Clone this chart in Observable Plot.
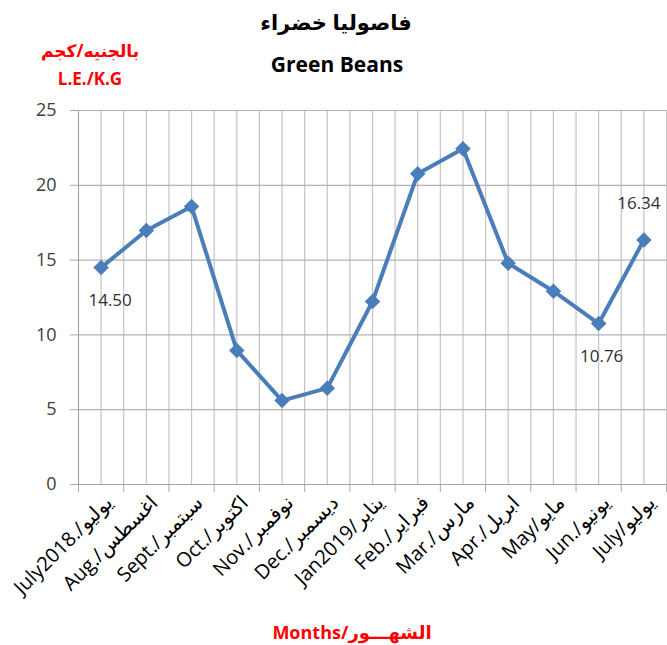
<!DOCTYPE html>
<html><head><meta charset="utf-8">
<script src="https://cdn.jsdelivr.net/npm/d3@7"></script>
<script src="https://cdn.jsdelivr.net/npm/@observablehq/plot@0.6"></script>
<style>
body{margin:0;background:#fff}
#c{position:relative;width:667px;height:645px;font-family:"Open Sans","DejaVu Sans",sans-serif;overflow:hidden}
#c svg{position:absolute;left:0;top:0}
.t{position:absolute;transform:translate(-50%,-50%);white-space:nowrap;font-weight:bold;line-height:1}
</style>
</head><body><div id="c"></div>
<script>
const titleAr = "فاصوليا خضراء";
const titleEn = "Green Beans";
const unitAr = "بالجنيه/كجم";
const unitEn = "L.E./K.G";
const xTitle = "Months/الشهـــور";
const months = ["July2018./يوليو","Aug./اغسطس","Sept./سبتمبر","Oct./اكتوبر","Nov./نوفمبر","Dec./ديسمبر","Jan2019/يناير","Feb./فبراير","Mar./مارس","Apr./ابريل","May/مايو","Jun./يونيو","July/يوليو"];
const prices = [14.50,16.98,18.58,8.96,5.61,6.44,12.23,20.77,22.44,14.79,12.92,10.76,16.34];
const yTicks = [0,5,10,15,20,25];
const labeledIdx = [0,11,12];

const data = months.map((m,i)=>({i, m, v: prices[i]}));
const bounds = d3.range(-0.5, months.length, 1);
const grid = d3.range(0, months.length, 0.5);
const lab = i => ({i, v: prices[i], t: prices[i].toFixed(2)});
const font = '"Open Sans","DejaVu Sans",sans-serif';

const chart = Plot.plot({
  width: 667, height: 645,
  marginTop: 110, marginBottom: 161, marginLeft: 78, marginRight: 1,
  x: {domain: [-0.5, months.length - 0.5], axis: null},
  y: {domain: [0, 25], axis: null},
  style: {fontFamily: font, background: "#fff", color: "#000"},
  marks: [
    Plot.gridX(grid, {stroke: "#c4c4c4", strokeOpacity: 1, strokeWidth: 1.2}),
    Plot.gridY(yTicks.slice(1), {stroke: "#b4b4b4", strokeOpacity: 1, strokeWidth: 1.2}),
    Plot.ruleX([-0.5], {stroke: "#a6a6a6", strokeWidth: 1.2}),
    Plot.ruleY([0], {stroke: "#a6a6a6", strokeWidth: 1.2}),
    Plot.axisY(yTicks, {tickSize: 8, tickPadding: 14, stroke: "#a6a6a6", fill: "#404040", fontSize: 18, label: null}),
    Plot.axisX(bounds, {tickSize: 8, text: null, label: null, stroke: "#a6a6a6"}),
    Plot.axisX(d3.range(months.length), {tickSize: 0, tickPadding: 15, dx: 8, tickFormat: i => months[i], tickRotate: -45, fontSize: 20, fill: "#000", label: null}),
    Plot.line(data, {x: "i", y: "v", stroke: "#4a7ebb", strokeWidth: 4}),
    Plot.dot(data, {x: "i", y: "v", symbol: "diamond2", r: 7, fill: "#4a7ebb"}),
    Plot.text([lab(labeledIdx[0])], {x: "i", y: "v", text: "t", dx: 9, dy: 33, fontSize: 17, fill: "#303030"}),
    Plot.text([lab(labeledIdx[1])], {x: "i", y: "v", text: "t", dx: 3, dy: 33, fontSize: 17, fill: "#303030"}),
    Plot.text([lab(labeledIdx[2])], {x: "i", y: "v", text: "t", dx: -5, dy: -37, fontSize: 17, fill: "#303030"})
  ]
});
const c = document.getElementById("c");
c.appendChild(chart);
function addText(txt, x, y, size, color){
  const d = document.createElement("div");
  d.className = "t";
  d.textContent = txt;
  d.style.left = x + "px"; d.style.top = y + "px";
  d.style.fontSize = size + "px"; d.style.color = color;
  c.appendChild(d);
}
addText(titleAr, 336, 22, 21, "#000");
addText(titleEn, 337, 64, 21, "#000");
addText(unitAr, 90, 50, 17, "#ff0000");
addText(unitEn, 90, 78, 17, "#ff0000");
addText(xTitle, 352, 632, 18, "#ff0000");
</script>
</body></html>
